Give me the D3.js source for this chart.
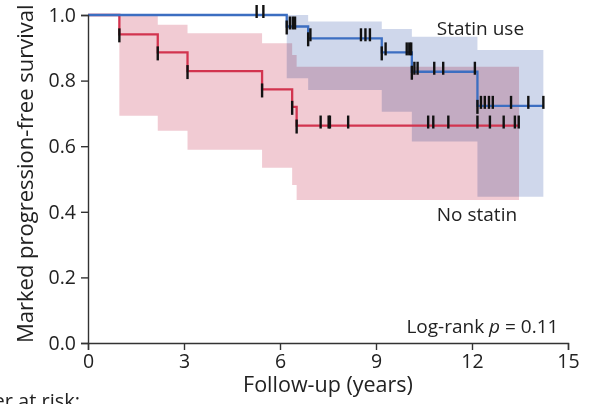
<!DOCTYPE html>
<html>
<head>
<meta charset="utf-8">
<script src="https://cdn.jsdelivr.net/npm/d3@7"></script>
<style>
  body { margin: 0; background: #fff; }
  text { font-family: "Open Sans", sans-serif; fill: #222; }
</style>
</head>
<body>
<svg id="chart" width="593" height="404"></svg>
<script>
// no statin group (red)
const noStatinTimes = [0, 0.98, 2.18, 3.11, 5.44, 6.38, 6.52];
const noStatinSurv  = [1, 0.941, 0.886, 0.829, 0.773, 0.720, 0.663];
const noStatinUpper = [1, 1.0, 0.970, 0.944, 0.914, 0.878, 0.842];
const noStatinLower = [1, 0.693, 0.647, 0.589, 0.534, 0.482, 0.436];
const noStatinEnd = 13.47;
const noStatinCensor = [0.98, 2.18, 3.11, 5.44, 6.38, 6.52, 7.27, 7.52, 7.56, 8.13,
  10.63, 10.79, 11.26, 12.17, 12.56, 12.99, 13.34, 13.46];

// statin use group (blue)
const statinTimes = [0, 6.21, 6.88, 9.18, 10.12, 12.17];
const statinSurv  = [1, 0.965, 0.929, 0.886, 0.827, 0.723];
const statinUpper = [1, 1.0, 0.980, 0.957, 0.934, 0.893];
const statinLower = [1, 0.807, 0.771, 0.705, 0.614, 0.446];
const statinEnd = 14.23;
const statinCensor = [5.27, 5.48, 6.21, 6.31, 6.40, 6.47, 6.88, 6.95, 8.53, 8.67, 8.81,
  9.18, 9.30, 9.96, 10.04, 10.10, 10.12, 10.20, 10.30, 10.82, 11.10, 12.09,
  12.17, 12.28, 12.40, 12.53, 12.65, 13.22, 13.76, 14.23];

const xTicks = [0, 3, 6, 9, 12, 15];
const yTicks = [0, 0.2, 0.4, 0.6, 0.8, 1.0];

const margin = {top: 15, right: 25, bottom: 61, left: 88};
const width = 593 - margin.left - margin.right;
const height = 404 - margin.top - margin.bottom;

const svg = d3.select("#chart");
const g = svg.append("g")
    .attr("transform", "translate(" + margin.left + "," + margin.top + ")");

const x = d3.scaleLinear().domain([0, 15]).range([0, width]);
const y = d3.scaleLinear().domain([0, 1]).range([height, 0]);

function steps(times, surv, upper, lower, end) {
  const pts = times.map((t, i) => ({t: t, s: surv[i], u: upper[i], l: lower[i]}));
  const last = pts[pts.length - 1];
  pts.push({t: end, s: last.s, u: last.u, l: last.l});
  return pts;
}

function survAt(times, surv, t) {
  let v = surv[0];
  times.forEach((tt, i) => { if (tt <= t + 1e-9) v = surv[i]; });
  return v;
}

const groups = [
  {name: "no", data: steps(noStatinTimes, noStatinSurv, noStatinUpper, noStatinLower, noStatinEnd),
   times: noStatinTimes, surv: noStatinSurv, censor: noStatinCensor,
   line: "#d2344f", band: "#f1cbd3"},
  {name: "statin", data: steps(statinTimes, statinSurv, statinUpper, statinLower, statinEnd),
   times: statinTimes, surv: statinSurv, censor: statinCensor,
   line: "#3c6ec1", band: "#cfd7eb"}
];

const area = d3.area()
    .curve(d3.curveStepAfter)
    .x(d => x(d.t))
    .y0(d => y(d.l))
    .y1(d => y(d.u));

const line = d3.line()
    .curve(d3.curveStepAfter)
    .x(d => x(d.t))
    .y(d => y(d.s));

g.append("g").selectAll("path")
  .data(groups)
  .enter().append("path")
    .attr("d", d => area(d.data))
    .attr("fill", d => d.band)
    .style("mix-blend-mode", "multiply");

g.append("g").selectAll("path")
  .data(groups)
  .enter().append("path")
    .attr("d", d => line(d.data))
    .attr("fill", "none")
    .attr("stroke", d => d.line)
    .attr("stroke-width", 2.3);

// censor marks
groups.forEach(grp => {
  g.append("g").selectAll("line")
    .data(grp.censor)
    .enter().append("line")
      .attr("x1", t => x(t))
      .attr("x2", t => x(t))
      .attr("y1", t => y(survAt(grp.times, grp.surv, t)) + (grp.times.includes(t) ? -6 : -10))
      .attr("y2", t => y(survAt(grp.times, grp.surv, t)) + (grp.times.includes(t) ? 8 : 3))
      .attr("stroke", "#111")
      .attr("stroke-width", 2.4);
});

// axes
const xAxis = g.append("g")
    .attr("transform", "translate(0," + height + ")")
    .call(d3.axisBottom(x).tickValues(xTicks).tickSizeOuter(0).tickSize(7).tickPadding(4));
const yAxis = g.append("g")
    .call(d3.axisLeft(y).tickValues(yTicks).tickFormat(d3.format(".1f")).tickSizeOuter(0).tickSize(7).tickPadding(5));

[xAxis, yAxis].forEach(a => {
  a.attr("font-size", 19.5).attr("font-family", "Open Sans, sans-serif");
  a.selectAll("path, line").attr("stroke", "#333").attr("stroke-width", 1.4);
  a.selectAll("text").attr("fill", "#222");
});

// axis titles
g.append("text")
    .attr("x", width / 2)
    .attr("y", height + 49)
    .attr("text-anchor", "middle")
    .attr("font-size", 21.5)
    .text("Follow-up (years)");

g.append("text")
    .attr("transform", "translate(" + (-55) + "," + height + ") rotate(-90)")
    .attr("text-anchor", "start")
    .attr("font-size", 22)
    .text("Marked progression-free survival");

// labels
g.append("text").attr("x", x(10.9)).attr("y", y(0.94)).attr("font-size", 19).text("Statin use");
g.append("text").attr("x", x(10.9)).attr("y", y(0.372)).attr("font-size", 19).text("No statin");

const lr = g.append("text").attr("x", x(14.7)).attr("y", y(0.03)).attr("text-anchor", "end").attr("font-size", 19);
lr.append("tspan").text("Log-rank ");
lr.append("tspan").attr("font-style", "italic").text("p");
lr.append("tspan").text(" = 0.11");

svg.append("text")
    .attr("x", 80)
    .attr("y", 408)
    .attr("text-anchor", "end")
    .attr("font-size", 20)
    .text("Number at risk:");
</script>
</body>
</html>
